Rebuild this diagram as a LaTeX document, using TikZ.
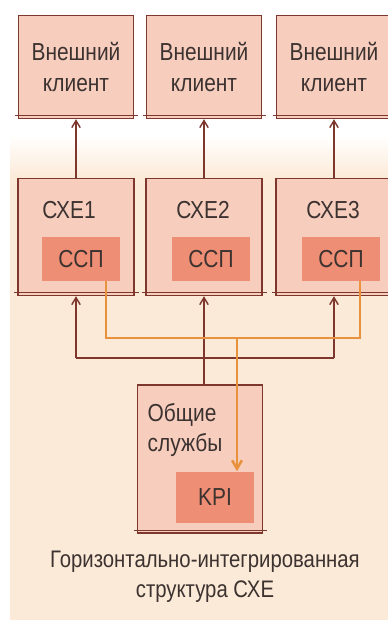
\documentclass[tikz,border=0pt]{standalone}
\usepackage{fontspec}
\setmainfont{Liberation Sans}[FakeStretch=0.85]
\usetikzlibrary{positioning, arrows.meta}
\definecolor{myPeach}{RGB}{252,234,216}
\definecolor{myPink}{RGB}{247,206,190}
\definecolor{mySalmon}{RGB}{238,142,116}
\definecolor{myBrown}{RGB}{125,55,45}
\definecolor{myOrange}{RGB}{232,146,62}
\definecolor{myInk}{RGB}{60,50,48}

\begin{document}
\begin{tikzpicture}[
  x=0.025cm, y=-0.025cm,
  txt/.style={font=\fontsize{17.5}{21.5}\selectfont, text=myInk, align=center},
  box/.style={txt, draw=myBrown, fill=myPink, line width=1pt},
  client/.style={box, minimum width=2.875cm, minimum height=2.575cm},
  cxe/.style={box, minimum width=2.9cm, minimum height=2.925cm},
  inner/.style={txt, fill=mySalmon, minimum width=1.95cm, minimum height=1.1cm},
  edge/.style={draw=myBrown, line width=1pt},
  arr/.style={edge, -{Straight Barb[length=5pt, width=6pt]}},
  oline/.style={draw=myOrange, line width=1.8pt},
  oarr/.style={oline, -{Straight Barb[length=6pt, width=7pt]}},
]
  \useasboundingbox (0,0) rectangle (388,620);
  % background
  \shade[top color=white, bottom color=myPeach] (10,135) rectangle (388,178);
  \fill[myPeach] (10,178) rectangle (388,620);

  % external clients
  \node[client] (client1) at (76,67)  {Внешний\\клиент};
  \node[client] (client2) at (204,67) {Внешний\\клиент};
  \node[client] (client3) at (334,67) {Внешний\\клиент};

  % units
  \node[cxe] (cxe1) at (76,237)  {};
  \node[cxe] (cxe2) at (204,237) {};
  \node[cxe] (cxe3) at (334,237) {};
  \node[txt] (cxe1t) at (69,210)  {СХЕ1};
  \node[txt] (cxe2t) at (203,210) {СХЕ2};
  \node[txt] (cxe3t) at (333,210) {СХЕ3};
  \node[inner] (ssp1) at (81,259)  {ССП};
  \node[inner] (ssp2) at (211,259) {ССП};
  \node[inner] (ssp3) at (341,259) {ССП};

  % common services
  \node[box, minimum width=3.125cm, minimum height=3.7cm] (common) at (200,459) {};
  \node[txt, align=left] (commont) at (185,430) {Общие\\службы};
  \node[inner, minimum height=1.275cm] (kpi) at (215,497) {KPI};

  \node[txt, font=\fontsize{17}{21}\selectfont] (caption) at (205,577)
    {Горизонтально-интегрированная\\структура СХЕ};

  \foreach \n in {client1,client2,client3,cxe1,cxe2,cxe3,common}
    \draw[edge] ([xshift=-2pt, yshift=2.5pt]\n.south west)
      -- ([xshift=3pt, yshift=2.5pt]\n.south east);

  \draw[arr] (cxe1.north) -- (client1.south);
  \draw[arr] (cxe2.north) -- (client2.south);
  \draw[arr] (cxe3.north) -- (client3.south);

  \coordinate (bus) at (0,358);
  \draw[arr] (cxe2.south |- common.north) -- (cxe2.south);
  \draw[edge] (cxe1.south |- bus) -- (cxe3.south |- bus);
  \draw[arr] (cxe1.south |- bus) -- (cxe1.south);
  \draw[arr] (cxe3.south |- bus) -- (cxe3.south);

  \coordinate (o1) at (106,338);
  \coordinate (o2) at (237,338);
  \coordinate (o3) at (360,338);
  \draw[oline] (o1 |- ssp1.south) -- (o1) -- (o3) -- (o3 |- ssp3.south);
  \draw[oarr] (o2) -- (o2 |- kpi.north);
\end{tikzpicture}
\end{document}
